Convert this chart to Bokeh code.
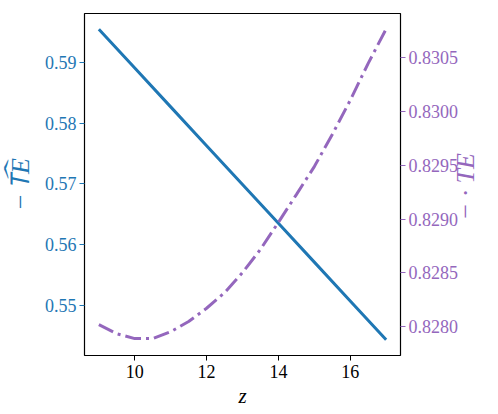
import math
from bokeh.plotting import figure
from bokeh.models import (Range1d, LinearAxis, FixedTicker, PrintfTickFormatter,
                          ColumnDataSource)
from bokeh.embed import file_html
from bokeh.resources import INLINE

# ---- data ----
z_blue = [9, 10, 11, 12, 13, 14, 15, 16, 17]
te_hat = [0.5955, 0.5891, 0.5827, 0.5763, 0.5699, 0.5635, 0.5571, 0.5507, 0.5443]

z_purple = [9, 9.5, 10, 10.5, 11, 11.5, 12, 12.5, 13, 13.5, 14, 14.5, 15, 15.5, 16, 16.5, 17]
te = [0.828020, 0.827935, 0.827890, 0.827890, 0.827954, 0.828049, 0.828172, 0.828316,
      0.828503, 0.828719, 0.828970, 0.829228, 0.829488, 0.829786, 0.830104, 0.830447,
      0.830766]

x_ticks = [10, 12, 14, 16]
left_ticks = [0.55, 0.56, 0.57, 0.58, 0.59]
right_ticks = [0.8280, 0.8285, 0.8290, 0.8295, 0.8300, 0.8305]

left_title = "− T\u1DCDE"
right_title = "− · TE"
x_title = "z"

BLUE = "#1f77b4"
PURPLE = "#9467bd"
FONT = "Liberation Serif"

p = figure(width=498, height=414, output_backend="svg", toolbar_location=None,
           x_range=Range1d(8.6, 17.4), y_range=Range1d(0.5417, 0.5981),
           min_border_left=84, min_border_right=98, min_border_top=13, min_border_bottom=59)
p.extra_y_ranges = {"r": Range1d(0.827733, 0.830910), "lab": Range1d(0, 342)}

p.xgrid.visible = False
p.ygrid.visible = False
p.outline_line_color = "black"
p.outline_line_width = 1.2
p.outline_line_alpha = 1.0
p.background_fill_color = "white"
p.border_fill_color = "white"

def style_axis(ax, color):
    ax.axis_line_color = None
    ax.major_tick_line_color = color
    ax.major_tick_out = 5
    ax.major_tick_in = 0
    ax.minor_tick_line_color = None
    ax.major_label_text_color = color
    ax.major_label_text_font = FONT
    ax.major_label_text_font_size = "18px"
    ax.major_label_standoff = 3
    ax.axis_label_text_color = color
    ax.axis_label_text_font = FONT
    ax.axis_label_text_font_style = "italic"

# bottom axis
xa = p.xaxis[0]
style_axis(xa, "black")
xa.ticker = FixedTicker(ticks=x_ticks)
xa.major_label_standoff = 4
xa.axis_label = x_title
xa.axis_label_text_font_size = "21px"
xa.axis_label_standoff = 3

# left axis
ya = p.yaxis[0]
style_axis(ya, BLUE)
ya.ticker = FixedTicker(ticks=left_ticks)
ya.formatter = PrintfTickFormatter(format="%.2f")
ya.axis_label = left_title
ya.axis_label_text_font_size = "26px"
ya.axis_label_standoff = 7

# right axis (ticks)
ra = LinearAxis(y_range_name="r")
style_axis(ra, PURPLE)
ra.ticker = FixedTicker(ticks=right_ticks)
ra.formatter = PrintfTickFormatter(format="%.4f")
p.add_layout(ra, "right")

# right axis title, drawn as a rotated label reading upwards
rt = LinearAxis(y_range_name="lab")
style_axis(rt, PURPLE)
rt.major_tick_out = 0
rt.major_tick_line_color = None
rt.ticker = FixedTicker(ticks=[135])
rt.major_label_overrides = {135: right_title}
rt.major_label_orientation = math.pi / 2
rt.major_label_text_font_size = "26px"
rt.major_label_text_font_style = "italic"
rt.major_label_standoff = 4
p.add_layout(rt, "right")

src_b = ColumnDataSource(dict(z=z_blue, v=te_hat))
src_p = ColumnDataSource(dict(z=z_purple, v=te))
p.line("z", "v", source=src_b, line_color=BLUE, line_width=3)
p.line("z", "v", source=src_p, line_color=PURPLE, line_width=3,
       line_dash="16 5 3 5", y_range_name="r")

open("out.html", "w").write(file_html(p, INLINE))
